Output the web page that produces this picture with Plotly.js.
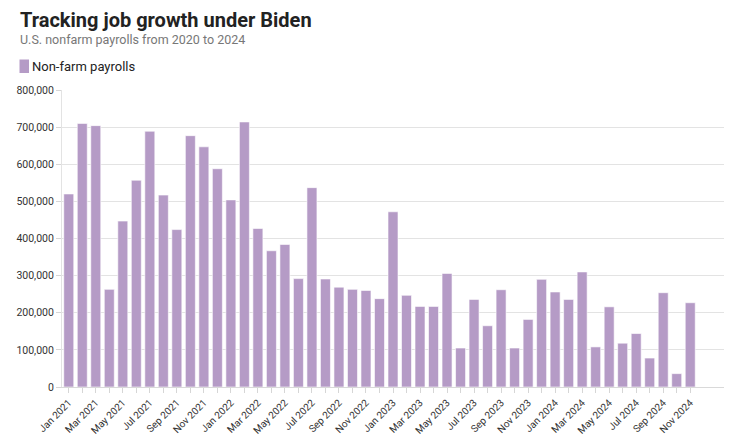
<!DOCTYPE html>
<html>
<head>
<meta charset="utf-8">
<script src="https://cdn.plot.ly/plotly-3.0.1.min.js"></script>
<style>html,body{margin:0;padding:0;background:#fff;}#chart{width:740px;height:436px;}</style>
</head>
<body>
<div id="chart"></div>
<script>
const months = ["Jan","Feb","Mar","Apr","May","Jun","Jul","Aug","Sep","Oct","Nov","Dec"];
const years = [2021, 2022, 2023, 2024];
const payrolls = [
  520000, 710000, 704000, 263000, 447000, 557000, 689000, 517000, 424000, 677000, 647000, 588000,
  504000, 714000, 427000, 367000, 384000, 292000, 537000, 291000, 269000, 263000, 260000, 238000,
  472000, 247000, 217000, 217000, 306000, 105000, 236000, 165000, 262000, 105000, 182000, 290000,
  256000, 236000, 310000, 108000, 216000, 118000, 144000, 78000, 254000, 36000, 227000
];
const seriesName = "Non-farm payrolls";
const titleText = "Tracking job growth under Biden";
const subtitleText = "U.S. nonfarm payrolls from 2020 to 2024";
const barColor = "#b59bc6";

const categories = [];
years.forEach(y => months.forEach(m => categories.push(m + " " + y)));
const cats = categories.slice(0, payrolls.length);
const tickText = cats.map((c, i) => (i % 2 === 0 ? c : ""));

const L = 62, R = 16, T = 90, B = 49, W = 740, H = 436;
const plotW = W - L - R, plotH = H - T - B;
const px = v => (v - L) / plotW;          // pixel x -> paper x
const py = v => 1 - (v - T) / plotH;      // pixel y -> paper y
const font = "Roboto, 'Noto Sans', Arial, sans-serif";

const trace = {
  type: "bar",
  x: cats,
  y: payrolls,
  name: seriesName,
  showlegend: false,
  marker: { color: barColor, line: { color: "rgba(255,255,255,0.6)", width: 1 } },
  hoverinfo: "x+y"
};

const layout = {
  width: W,
  height: H,
  margin: { l: L, r: R, t: T, b: B },
  paper_bgcolor: "#fff",
  plot_bgcolor: "#fff",
  font: { family: font, color: "#333", size: 11 },
  bargap: 0.26,
  showlegend: false,
  xaxis: {
    type: "category",
    range: [-0.5, 48.5],
    tickmode: "array",
    tickvals: cats,
    ticktext: tickText,
    tickangle: -45,
    ticks: "outside",
    ticklen: 5,
    tickcolor: "#d6d6d6",
    tickfont: { family: font, size: 10, color: "#333" },
    showgrid: false,
    showline: true,
    linecolor: "#d9d9d9",
    zeroline: false,
    automargin: false,
    fixedrange: true
  },
  yaxis: {
    range: [0, 800000],
    tickmode: "array",
    tickvals: [0, 100000, 200000, 300000, 400000, 500000, 600000, 700000, 800000],
    tickformat: ",",
    ticks: "outside",
    ticklen: 5,
    tickcolor: "#d6d6d6",
    tickfont: { family: font, size: 10.5, color: "#333" },
    gridcolor: "#e3e3e3",
    showline: true,
    linecolor: "#e3e3e3",
    zeroline: false,
    automargin: false,
    fixedrange: true
  },
  shapes: [
    {
      type: "rect", xref: "paper", yref: "paper",
      x0: px(19.5), x1: px(29), y0: py(73), y1: py(59.5),
      fillcolor: barColor, line: { width: 0 }, layer: "above"
    }
  ],
  annotations: [
    {
      text: "<b>" + titleText + "</b>",
      xref: "paper", yref: "paper",
      x: px(18), xanchor: "left",
      y: py(6), yanchor: "top",
      showarrow: false,
      font: { family: font, size: 20, color: "#222" }
    },
    {
      text: subtitleText,
      xref: "paper", yref: "paper",
      x: px(18), xanchor: "left",
      y: py(29.5), yanchor: "top",
      showarrow: false,
      font: { family: font, size: 12.5, color: "#777" }
    },
    {
      text: seriesName,
      xref: "paper", yref: "paper",
      x: px(30), xanchor: "left",
      y: py(66.5), yanchor: "middle",
      showarrow: false,
      font: { family: font, size: 13, color: "#222" }
    }
  ]
};

Plotly.newPlot("chart", [trace], layout, { displayModeBar: false, staticPlot: true });
</script>
</body>
</html>
